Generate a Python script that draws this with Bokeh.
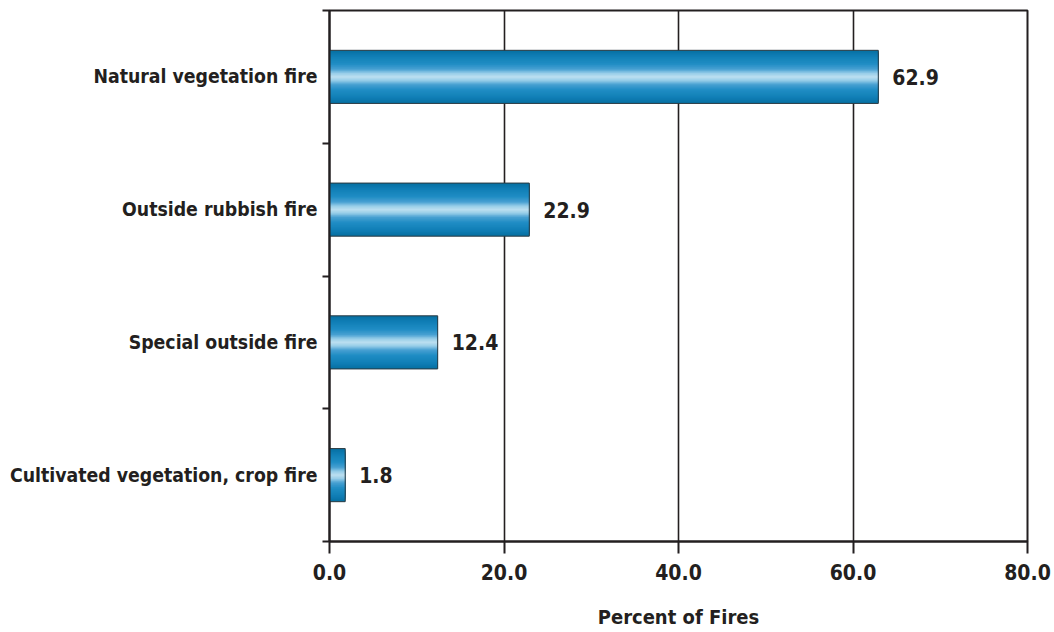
import numpy as np
from bokeh.plotting import figure
from bokeh.models import ColumnDataSource, FixedTicker, Range1d
from bokeh.core.properties import value
from bokeh.embed import file_html
from bokeh.resources import INLINE

# Fire types, bottom to top, and their share of fires (%)
categories = [
    "Cultivated vegetation, crop fire",
    "Special outside fire",
    "Outside rubbish fire",
    "Natural vegetation fire",
]
percent = [1.8, 12.4, 22.9, 62.9]

x_ticks = [0, 20, 40, 60, 80]
x_tick_labels = ["0.0", "20.0", "40.0", "60.0", "80.0"]

FONT = "DejaVu Sans Condensed"
INK = "#231f20"

y_pos = [i + 0.5 for i in range(len(categories))]
src = ColumnDataSource(dict(
    y=y_pos,
    pct=percent,
    label=[f"{v:.1f}" for v in percent],
))

p = figure(
    width=1054, height=632,
    output_backend="svg", toolbar_location=None,
    x_range=Range1d(0, 80), y_range=Range1d(0, 4),
    min_border_left=329, min_border_right=27,
    min_border_top=10, min_border_bottom=91,
)
p.background_fill_color = "white"
p.border_fill_color = "white"

# Cylinder-style shading: nested bars, dark at the edges, light in the middle.
# Shade stops by distance from the bar's centre line (0 = centre, 1 = edge).
BAR_H = 0.40
stop_f = [0.0, 0.15, 0.3, 0.5, 0.8, 1.0]
stop_rgb = np.array([
    [192, 225, 241],
    [150, 205, 232],
    [72, 160, 210],
    [32, 141, 196],
    [16, 126, 181],
    [6, 112, 162],
])
n_layers = 40
for k in range(n_layers):
    f = 1.0 - k / n_layers
    c = [np.interp(f, stop_f, stop_rgb[:, ch]) for ch in range(3)]
    color = "#%02x%02x%02x" % tuple(int(round(v)) for v in c)
    p.hbar(y="y", right="pct", left=0, height=BAR_H * f, source=src,
           fill_color=color, line_color=None)

p.hbar(y="y", right="pct", left=0, height=BAR_H, source=src,
       fill_color=None, line_color="#2b3a42", line_width=1)

# Value labels at the bar ends
p.text(x="pct", y="y", text="label", source=src,
       x_offset=14, text_baseline="middle", text_align="left",
       text_font=value(FONT), text_font_style="bold",
       text_font_size="21px", text_color=INK)

# Grid and frame
p.xgrid.ticker = FixedTicker(ticks=x_ticks)
p.xgrid.grid_line_color = INK
p.xgrid.grid_line_width = 1.6
p.ygrid.grid_line_color = None
p.outline_line_color = INK
p.outline_line_width = 2
p.outline_line_alpha = 1

# X axis
p.xaxis.ticker = FixedTicker(ticks=x_ticks)
p.xaxis.major_label_overrides = {t: s for t, s in zip(x_ticks, x_tick_labels)}
p.xaxis.axis_line_color = INK
p.xaxis.axis_line_width = 2
p.xaxis.major_tick_line_color = INK
p.xaxis.major_tick_line_width = 2
p.xaxis.major_tick_out = 12
p.xaxis.major_tick_in = 0
p.xaxis.minor_tick_line_color = None
p.xaxis.major_label_standoff = 10
p.xaxis.major_label_text_font = FONT
p.xaxis.major_label_text_font_style = "bold"
p.xaxis.major_label_text_font_size = "21px"
p.xaxis.major_label_text_color = INK
p.xaxis.axis_label = "Percent of Fires"
p.xaxis.axis_label_text_font = FONT
p.xaxis.axis_label_text_font_style = "bold"
p.xaxis.axis_label_text_font_size = "20px"
p.xaxis.axis_label_text_color = INK
p.xaxis.axis_label_standoff = 22

# Y axis: labels at category centres, ticks on category boundaries
p.yaxis.ticker = FixedTicker(ticks=y_pos, minor_ticks=list(range(len(categories) + 1)))
p.yaxis.major_label_overrides = {yy: c for yy, c in zip(y_pos, categories)}
p.yaxis.axis_line_color = INK
p.yaxis.axis_line_width = 2
p.yaxis.major_tick_out = 0
p.yaxis.major_tick_in = 0
p.yaxis.minor_tick_out = 7
p.yaxis.minor_tick_in = 0
p.yaxis.minor_tick_line_color = INK
p.yaxis.minor_tick_line_width = 2
p.yaxis.major_label_standoff = 5
p.yaxis.major_label_text_font = FONT
p.yaxis.major_label_text_font_style = "bold"
p.yaxis.major_label_text_font_size = "19.3px"
p.yaxis.major_label_text_color = INK

open("out.html", "w").write(file_html(p, INLINE))
